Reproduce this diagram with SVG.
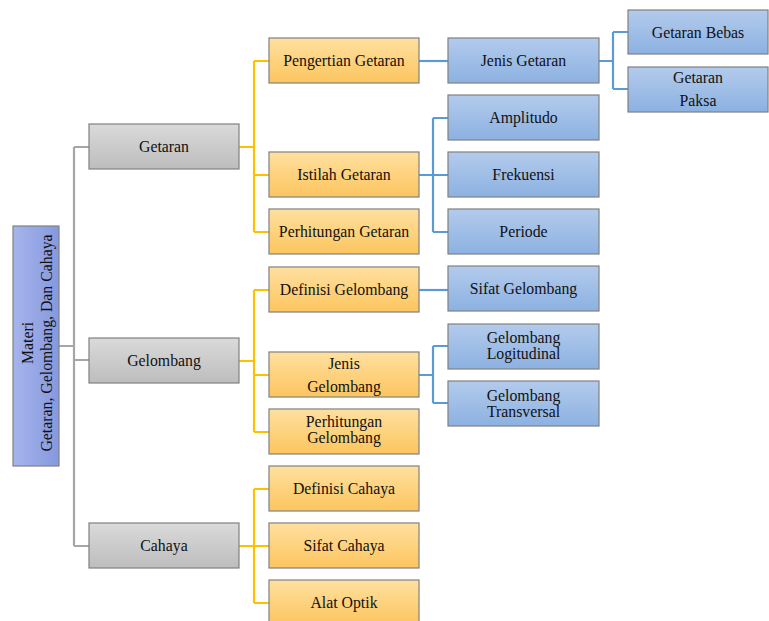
<svg xmlns="http://www.w3.org/2000/svg" width="769" height="621" viewBox="0 0 769 621">
<defs>
<linearGradient id="gGray" x1="0" y1="0" x2="0" y2="1"><stop offset="0" stop-color="#dadada"/><stop offset="1" stop-color="#bdbdbd"/></linearGradient>
<linearGradient id="gOrange" x1="0" y1="0" x2="0" y2="1"><stop offset="0" stop-color="#ffe0a0"/><stop offset="1" stop-color="#fcc55e"/></linearGradient>
<linearGradient id="gBlue" x1="0" y1="0" x2="0" y2="1"><stop offset="0" stop-color="#b3cbec"/><stop offset="1" stop-color="#8cb1e1"/></linearGradient>
<linearGradient id="gRoot" x1="0" y1="0" x2="1" y2="0"><stop offset="0" stop-color="#a6b5ec"/><stop offset="1" stop-color="#8698de"/></linearGradient>
</defs>
<style>
text{font-size:15.8px;fill:#111;text-anchor:middle}
.box{stroke:#808080;stroke-width:1.2}
.gray{fill:url(#gGray)}
.orange{fill:url(#gOrange)}
.blue{fill:url(#gBlue)}
.root{fill:url(#gRoot)}
.c{fill:none;stroke-width:2.2}
.cg{stroke:#a6a6a6}
.co{stroke:#ffc000}
.cb{stroke:#5b9bd5}
</style>
<rect width="769" height="621" fill="#fff"/>
<g id="connectors">
<path class="c cg" d="M59 346H74M74 147V546M74 147H89M74 360H89M74 546H89"/>
<path class="c co" d="M239 147H254M254 61V232M254 61H269M254 175H269M254 232H269"/>
<path class="c co" d="M239 361H254M254 290V432M254 290H269M254 375H269M254 432H269"/>
<path class="c co" d="M239 546H254M254 489V603M254 489H269M254 546H269M254 603H269"/>
<path class="c cb" d="M419 61H448"/>
<path class="c cb" d="M419 175H448M433 118V232M433 118H448M433 232H448"/>
<path class="c cb" d="M419 290H448"/>
<path class="c cb" d="M419 375H433M433 346V403M433 346H448M433 403H448"/>
<path class="c cb" d="M599 61H613M613 32V89M613 32H628M613 89H628"/>
</g>
<g font-family="'Liberation Serif', 'DejaVu Serif', serif">
<g id="root"><rect class="box root" x="13" y="226" width="46" height="240"/>
<text transform="translate(36,343) rotate(-90)"><tspan x="0" y="-3">Materi</tspan><tspan x="0" y="16">Getaran, Gelombang,  Dan Cahaya</tspan></text></g>
<g id="getaran"><rect class="box gray" x="89" y="124" width="150" height="45"/><text x="164" y="152">Getaran</text></g>
<g id="gelombang"><rect class="box gray" x="89" y="338" width="150" height="45"/><text x="164" y="366">Gelombang</text></g>
<g id="cahaya"><rect class="box gray" x="89" y="523" width="150" height="45"/><text x="164" y="551">Cahaya</text></g>
<g id="pengertian-getaran"><rect class="box orange" x="269" y="38" width="150" height="45"/><text x="344" y="66">Pengertian Getaran</text></g>
<g id="istilah-getaran"><rect class="box orange" x="269" y="152" width="150" height="45"/><text x="344" y="180">Istilah Getaran</text></g>
<g id="perhitungan-getaran"><rect class="box orange" x="269" y="209" width="150" height="45"/><text x="344" y="237">Perhitungan Getaran</text></g>
<g id="definisi-gelombang"><rect class="box orange" x="269" y="267" width="150" height="45"/><text x="344" y="295">Definisi Gelombang</text></g>
<g id="jenis-gelombang"><rect class="box orange" x="269" y="352" width="150" height="45"/><text x="344" y="369">Jenis</text><text x="344" y="392">Gelombang</text></g>
<g id="perhitungan-gelombang"><rect class="box orange" x="269" y="409" width="150" height="45"/><text x="344" y="427">Perhitungan</text><text x="344" y="443">Gelombang</text></g>
<g id="definisi-cahaya"><rect class="box orange" x="269" y="466" width="150" height="45"/><text x="344" y="494">Definisi Cahaya</text></g>
<g id="sifat-cahaya"><rect class="box orange" x="269" y="523" width="150" height="45"/><text x="344" y="551">Sifat Cahaya</text></g>
<g id="alat-optik"><rect class="box orange" x="269" y="580" width="150" height="45"/><text x="344" y="608">Alat Optik</text></g>
<g id="jenis-getaran"><rect class="box blue" x="448" y="38" width="151" height="45"/><text x="523.5" y="66">Jenis Getaran</text></g>
<g id="amplitudo"><rect class="box blue" x="448" y="95" width="151" height="45"/><text x="523.5" y="123">Amplitudo</text></g>
<g id="frekuensi"><rect class="box blue" x="448" y="152" width="151" height="45"/><text x="523.5" y="180">Frekuensi</text></g>
<g id="periode"><rect class="box blue" x="448" y="209" width="151" height="45"/><text x="523.5" y="237">Periode</text></g>
<g id="sifat-gelombang"><rect class="box blue" x="448" y="266" width="151" height="45"/><text x="523.5" y="294">Sifat Gelombang</text></g>
<g id="gelombang-logitudinal"><rect class="box blue" x="448" y="324" width="151" height="45"/><text x="523.5" y="343">Gelombang</text><text x="523.5" y="359">Logitudinal</text></g>
<g id="gelombang-transversal"><rect class="box blue" x="448" y="381" width="151" height="45"/><text x="523.5" y="401">Gelombang</text><text x="523.5" y="417">Transversal</text></g>
<g id="getaran-bebas"><rect class="box blue" x="628" y="10" width="140" height="44"/><text x="698" y="38">Getaran Bebas</text></g>
<g id="getaran-paksa"><rect class="box blue" x="628" y="67" width="140" height="45"/><text x="698" y="83">Getaran</text><text x="698" y="106">Paksa</text></g>
</g>
</svg>
